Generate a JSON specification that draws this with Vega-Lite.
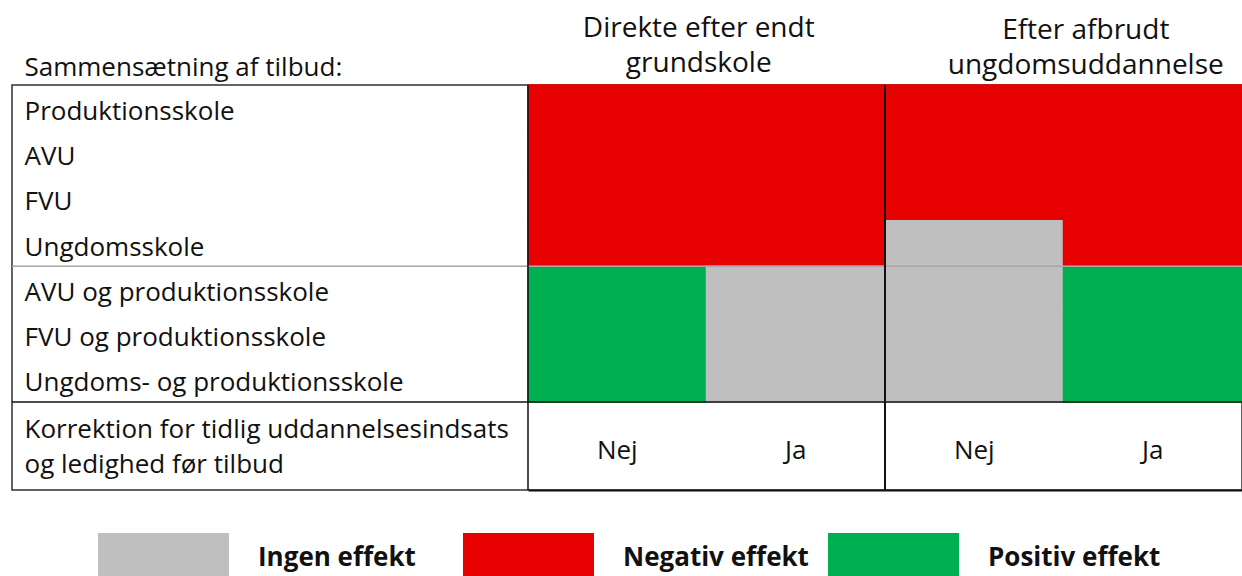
{
  "$schema": "https://vega.github.io/schema/vega-lite/v6.json",
  "width": 1230,
  "height": 405,
  "autosize": {"type": "none"},
  "padding": {"left": 12, "top": 85, "right": 0, "bottom": 86},
  "background": "white",
  "config": {
    "view": {"stroke": "#303030", "strokeWidth": 1.5},
    "font": "Open Sans",
    "text": {"font": "Open Sans"}
  },
  "data": {
    "values": [
      {"tilbud": "Produktionsskole", "kolonne": "Direkte Nej", "effekt": "Negativ effekt"},
      {"tilbud": "Produktionsskole", "kolonne": "Direkte Ja", "effekt": "Negativ effekt"},
      {"tilbud": "Produktionsskole", "kolonne": "Efter Nej", "effekt": "Negativ effekt"},
      {"tilbud": "Produktionsskole", "kolonne": "Efter Ja", "effekt": "Negativ effekt"},
      {"tilbud": "AVU", "kolonne": "Direkte Nej", "effekt": "Negativ effekt"},
      {"tilbud": "AVU", "kolonne": "Direkte Ja", "effekt": "Negativ effekt"},
      {"tilbud": "AVU", "kolonne": "Efter Nej", "effekt": "Negativ effekt"},
      {"tilbud": "AVU", "kolonne": "Efter Ja", "effekt": "Negativ effekt"},
      {"tilbud": "FVU", "kolonne": "Direkte Nej", "effekt": "Negativ effekt"},
      {"tilbud": "FVU", "kolonne": "Direkte Ja", "effekt": "Negativ effekt"},
      {"tilbud": "FVU", "kolonne": "Efter Nej", "effekt": "Negativ effekt"},
      {"tilbud": "FVU", "kolonne": "Efter Ja", "effekt": "Negativ effekt"},
      {"tilbud": "Ungdomsskole", "kolonne": "Direkte Nej", "effekt": "Negativ effekt"},
      {"tilbud": "Ungdomsskole", "kolonne": "Direkte Ja", "effekt": "Negativ effekt"},
      {"tilbud": "Ungdomsskole", "kolonne": "Efter Nej", "effekt": "Ingen effekt"},
      {"tilbud": "Ungdomsskole", "kolonne": "Efter Ja", "effekt": "Negativ effekt"},
      {"tilbud": "AVU og produktionsskole", "kolonne": "Direkte Nej", "effekt": "Positiv effekt"},
      {"tilbud": "AVU og produktionsskole", "kolonne": "Direkte Ja", "effekt": "Ingen effekt"},
      {"tilbud": "AVU og produktionsskole", "kolonne": "Efter Nej", "effekt": "Ingen effekt"},
      {"tilbud": "AVU og produktionsskole", "kolonne": "Efter Ja", "effekt": "Positiv effekt"},
      {"tilbud": "FVU og produktionsskole", "kolonne": "Direkte Nej", "effekt": "Positiv effekt"},
      {"tilbud": "FVU og produktionsskole", "kolonne": "Direkte Ja", "effekt": "Ingen effekt"},
      {"tilbud": "FVU og produktionsskole", "kolonne": "Efter Nej", "effekt": "Ingen effekt"},
      {"tilbud": "FVU og produktionsskole", "kolonne": "Efter Ja", "effekt": "Positiv effekt"},
      {"tilbud": "Ungdoms- og produktionsskole", "kolonne": "Direkte Nej", "effekt": "Positiv effekt"},
      {"tilbud": "Ungdoms- og produktionsskole", "kolonne": "Direkte Ja", "effekt": "Ingen effekt"},
      {"tilbud": "Ungdoms- og produktionsskole", "kolonne": "Efter Nej", "effekt": "Ingen effekt"},
      {"tilbud": "Ungdoms- og produktionsskole", "kolonne": "Efter Ja", "effekt": "Positiv effekt"}
    ]
  },
  "layer": [
    {
      "mark": {"type": "rect", "strokeWidth": 1.5},
      "encoding": {
        "x": {
          "field": "kolonne", "type": "nominal",
          "sort": ["Direkte Nej", "Direkte Ja", "Efter Nej", "Efter Ja"],
          "scale": {"range": [516, 1230], "paddingInner": 0, "paddingOuter": 0},
          "axis": {
            "orient": "bottom",
            "labelExpr": "indexof(datum.value, 'Nej') >= 0 ? 'Nej' : 'Ja'",
            "labelAngle": 0,
            "ticks": false,
            "tickSize": 0,
            "domain": true,
            "domainColor": "#111111",
            "domainWidth": 2,
            "labelFont": "Open Sans",
            "labelFontSize": 26,
            "labelColor": "#111111",
            "labelBaseline": "alphabetic",
            "labelPadding": -32,
            "title": ["Korrektion for tidlig uddannelsesindsats", "og ledighed før tilbud"],
            "titleFont": "Open Sans",
            "titleFontSize": 26,
            "titleFontWeight": "normal",
            "titleColor": "#111111",
            "titleAlign": "left",
            "titleBaseline": "alphabetic",
            "titleLineHeight": 35,
            "titleX": 12,
            "titleY": -53,
            "grid": false
          }
        },
        "y": {
          "field": "tilbud", "type": "nominal",
          "sort": ["Produktionsskole", "AVU", "FVU", "Ungdomsskole", "AVU og produktionsskole", "FVU og produktionsskole", "Ungdoms- og produktionsskole"],
          "scale": {"range": [0, 317], "paddingInner": 0, "paddingOuter": 0},
          "axis": {
            "orient": "left",
            "ticks": false,
            "tickSize": 0,
            "domain": false,
            "grid": false,
            "labelAlign": "left",
            "labelBaseline": "middle",
            "labelPadding": -12,
            "labelOffset": 4,
            "labelLimit": 600,
            "labelFont": "Open Sans",
            "labelFontSize": 26,
            "labelColor": "#111111",
            "title": "Sammensætning af tilbud:",
            "titleAngle": 0,
            "titleFont": "Open Sans",
            "titleFontSize": 26,
            "titleFontWeight": "normal",
            "titleColor": "#111111",
            "titleAlign": "left",
            "titleBaseline": "alphabetic",
            "titleX": 12,
            "titleY": -10
          }
        },
        "color": {
          "field": "effekt", "type": "nominal",
          "scale": {"domain": ["Ingen effekt", "Negativ effekt", "Positiv effekt"], "range": ["#BFBFBF", "#E60000", "#00B050"]},
          "legend": {
            "orient": "none",
            "legendX": 86,
            "legendY": 407,
            "direction": "horizontal",
            "title": null,
            "padding": 0,
            "gridAlign": "all",
            "columnPadding": 19,
            "symbolType": "M-1,-0.38H1V0.38H-1Z",
            "symbolSize": 17161,
            "symbolStrokeWidth": 0,
            "symbolOpacity": 1,
            "labelFont": "Open Sans",
            "labelFontSize": 26,
            "labelFontWeight": "bold",
            "labelColor": "#111111",
            "labelOffset": 29,
            "labelLimit": 400
          }
        },
        "stroke": {
          "field": "effekt", "type": "nominal",
          "scale": {"domain": ["Ingen effekt", "Negativ effekt", "Positiv effekt"], "range": ["#BFBFBF", "#E60000", "#00B050"]},
          "legend": null
        }
      }
    },
    {
      "data": {"values": [{}]},
      "mark": {"type": "rule", "color": "#A6A6A6", "strokeWidth": 1.5},
      "encoding": {
        "y": {"datum": "AVU og produktionsskole", "type": "nominal", "bandPosition": 0, "axis": null}
      }
    },
    {
      "data": {"values": [{}]},
      "mark": {"type": "rule", "color": "#111111", "strokeWidth": 1.5},
      "encoding": {
        "y": {"datum": "Ungdoms- og produktionsskole", "type": "nominal", "bandPosition": 1, "axis": null}
      }
    },
    {
      "data": {"values": [{}]},
      "mark": {"type": "rule", "color": "#111111", "strokeWidth": 1.5},
      "encoding": {
        "x": {"datum": "Direkte Nej", "type": "nominal", "bandPosition": 0, "axis": null}
      }
    },
    {
      "data": {"values": [{}]},
      "mark": {"type": "rule", "color": "#111111", "strokeWidth": 2},
      "encoding": {
        "x": {"datum": "Efter Nej", "type": "nominal", "bandPosition": 0, "axis": null}
      }
    },
    {
      "mark": {"type": "text", "text": ""},
      "encoding": {
        "x": {
          "field": "kolonne", "type": "nominal",
          "sort": ["Direkte Nej", "Direkte Ja", "Efter Nej", "Efter Ja"],
          "axis": {
            "orient": "top",
            "values": ["Direkte Ja", "Efter Ja"],
            "labelExpr": "datum.value === 'Direkte Ja' ? ['Direkte efter endt', 'grundskole'] : ['Efter afbrudt', 'ungdomsuddannelse']",
            "labelAngle": 0,
            "labelAlign": "center",
            "labelBaseline": "alphabetic",
            "labelLineHeight": 35,
            "labelOffset": {"condition": {"test": "datum.value === 'Efter Ja'", "value": -67}, "value": -97},
            "labelPadding": {"condition": {"test": "datum.value === 'Efter Ja'", "value": 47}, "value": 49},
            "labelFont": "Open Sans",
            "labelFontSize": 28,
            "labelColor": "#111111",
            "labelLimit": 600,
            "labelOverlap": false,
            "ticks": false,
            "tickSize": 0,
            "domain": false,
            "grid": false,
            "title": null
          }
        }
      }
    }
  ],
  "resolve": {"axis": {"x": "independent", "y": "independent"}}
}
